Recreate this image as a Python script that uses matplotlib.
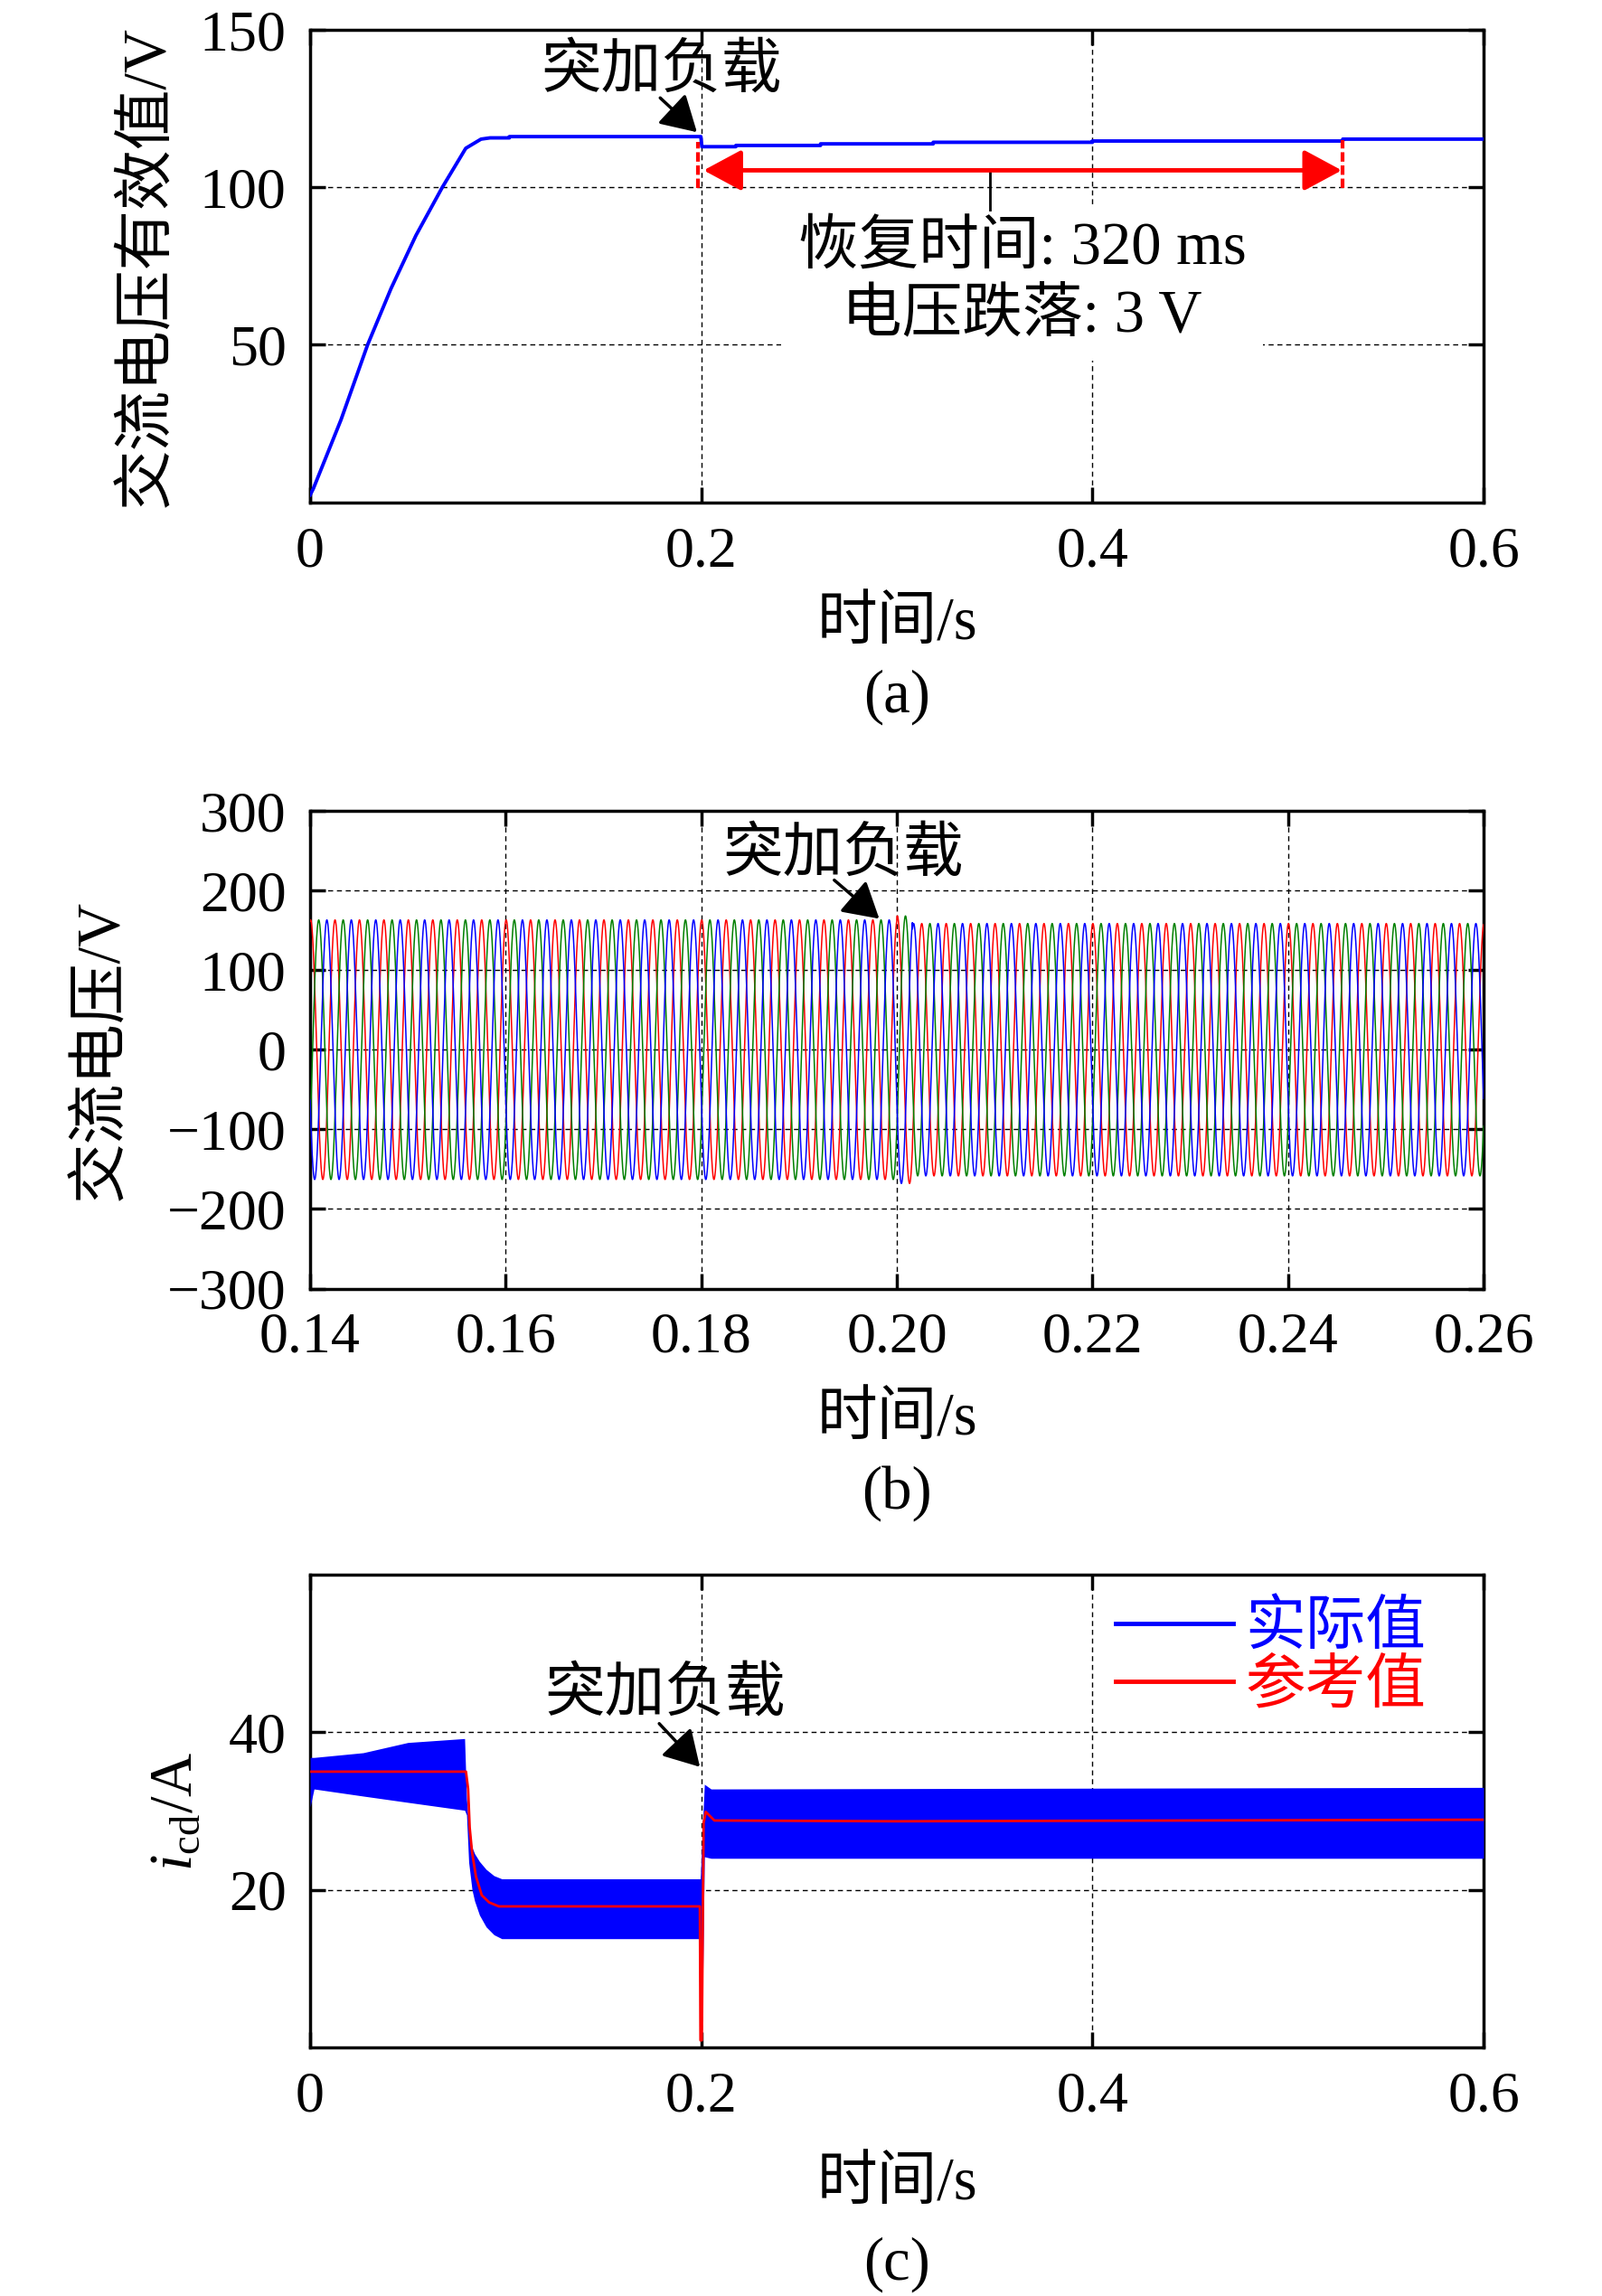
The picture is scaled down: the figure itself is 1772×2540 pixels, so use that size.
import numpy as np
import matplotlib
matplotlib.use("Agg")
import matplotlib.pyplot as plt
from matplotlib.lines import Line2D

plt.rcParams['font.family'] = ['Liberation Serif', 'Noto Sans CJK SC']
plt.rcParams['mathtext.fontset'] = 'custom'
plt.rcParams['mathtext.rm'] = 'Liberation Serif'
plt.rcParams['mathtext.it'] = 'Liberation Serif:italic'
plt.rcParams['axes.unicode_minus'] = True

# ---------------- data ----------------
# (a) RMS of AC voltage
t_rms = [0.000, 0.0017, 0.0158, 0.0294, 0.0414, 0.0541, 0.0676, 0.0796, 0.0874,
         0.0920, 0.1019, 0.1019, 0.1998, 0.2003, 0.2177, 0.2177, 0.2610, 0.2610,
         0.3186, 0.3186, 0.4000, 0.4000, 0.5280, 0.5280, 0.6000]
v_rms = [2.3, 4.4, 26.2, 50.0, 67.9, 84.7, 100.0, 112.4, 115.3,
         115.7, 115.7, 116.1, 116.1, 112.9, 112.9, 113.3, 113.3, 113.8,
         113.8, 114.3, 114.3, 114.7, 114.7, 115.3, 115.3]

# (b) three-phase AC voltage (400 Hz system)
f_ac = 400.0            # Hz
t_b_start, t_b_end = 0.14, 0.26
amp_before = 163.0      # V peak before load step
amp_peak = 168.0        # V peak during transient
amp_after = 158.5       # V peak after load step
t_step = 0.2
t_transient_end = 0.2016
phase_shift = 0.00005   # s, red-phase peak offset
phase_colors = ['#ff0000', '#008000', '#0000ff']

# (c) i_cd: ripple envelope of actual value and reference
t_band = [0.0000, 0.0020, 0.0271, 0.0500, 0.0790, 0.0800, 0.0811, 0.0828, 0.0841,
          0.0866, 0.0900, 0.0940, 0.0980, 0.1990, 0.1995, 0.2008, 0.2016, 0.2050, 0.6000]
band_hi = [36.8, 36.8, 37.4, 38.7, 39.2, 31.5, 28.0, 25.4, 24.6,
           23.6, 22.6, 21.8, 21.4, 21.4, 21.4, 29.0, 33.4, 32.8, 33.0]
band_lo = [30.5, 32.8, 31.9, 31.1, 30.1, 29.5, 23.5, 20.0, 18.6,
           16.8, 15.3, 14.3, 13.8, 13.8, 9.1, 9.1, 24.2, 24.0, 24.0]
t_ref = [0.0000, 0.0797, 0.0808, 0.0816, 0.0828, 0.0848, 0.0878, 0.0916, 0.0965,
         0.1993, 0.1996, 0.2003, 0.2012, 0.2023, 0.2067, 0.3000, 0.6000]
i_ref = [35.0, 35.0, 32.8, 27.9, 24.8, 21.7, 19.3, 18.4, 17.9,
         17.9, 0.9, 0.9, 28.5, 29.9, 28.8, 28.7, 28.9]

legend_labels = ['实际值', '参考值']
xt_ac = [0, 0.2, 0.4, 0.6]
xt_ac_labels = ['0', '0.2', '0.4', '0.6']
yt_a = [50, 100, 150]
xt_b = [0.14, 0.16, 0.18, 0.20, 0.22, 0.24, 0.26]
xt_b_labels = ['0.14', '0.16', '0.18', '0.20', '0.22', '0.24', '0.26']
yt_b = [-300, -200, -100, 0, 100, 200, 300]
yt_c = [20, 40]

# ---------------- figure ----------------
FS = 46      # tick labels
FC = 48      # labels / annotations with Chinese text
FL = 48      # legend
W, H = 1772, 2540
fig = plt.figure(figsize=(W / 100, H / 100), dpi=100)


def axes_px(left, top, right, bottom):
    return fig.add_axes([left / W, 1 - bottom / H, (right - left) / W, (bottom - top) / H])


def style(ax):
    for s in ax.spines.values():
        s.set_linewidth(2.5)
    ax.tick_params(direction='in', top=True, right=True, length=12, width=2.5,
                   labelsize=FS, pad=19)
    ax.set_axisbelow(True)
    ax.grid(True, color='k', lw=1.0, linestyle=(0, (4, 3)))


L, R = 343, 1641
ax_a = axes_px(L, 33, R, 555.7)
ax_b = axes_px(L, 897, R, 1425.5)
ax_c = axes_px(L, 1742, R, 2265)
for ax in (ax_a, ax_b, ax_c):
    style(ax)

arrow_k = dict(arrowstyle='-|>,head_length=1.2,head_width=0.7', mutation_scale=20,
               lw=2.5, color='k', shrinkA=0, shrinkB=0)

# ---- (a) ----
ax_a.plot(t_rms, v_rms, color='#0000ff', lw=2.8, zorder=3)
ax_a.set_xlim(0, 0.6)
ax_a.set_ylim(0, 150)
ax_a.set_xticks(xt_ac)
ax_a.set_xticklabels(xt_ac_labels)
ax_a.set_yticks(yt_a)
ax_a.text(0.1794, 136.5, '突加负载', ha='center', va='center', fontsize=FC)
ax_a.annotate('', xy=(0.1978, 117.5), xytext=(0.1790, 128.4), arrowprops=arrow_k)
ax_a.annotate('', xy=(0.5275, 105.4), xytext=(0.2012, 105.4),
              arrowprops=dict(arrowstyle='<|-|>,head_length=1.3,head_width=0.7',
                              mutation_scale=20, lw=3.5, color='#ff0000',
                              shrinkA=0, shrinkB=0), zorder=5)
ax_a.plot([0.1985, 0.1985], [99.7, 114.4], color='#ff0000', lw=3, dashes=(2.5, 1), zorder=4)
ax_a.plot([0.5280, 0.5280], [99.7, 115.0], color='#ff0000', lw=3, dashes=(2.5, 1), zorder=4)
ax_a.text(0.364, 69.8, '恢复时间: 320 ms\n电压跌落: 3 V', ha='center', va='center',
          multialignment='center', fontsize=FC, linespacing=1.27, zorder=3,
          bbox=dict(boxstyle='square,pad=0.28', facecolor='white', edgecolor='none'))
ax_a.plot([0.3477, 0.3477], [105.4, 93.0], color='k', lw=2, zorder=4)

# ---- (b) ----
t_b = np.arange(t_b_start, t_b_end + 1e-6, 1e-5)
amp = np.where(t_b < t_step, amp_before,
               np.where(t_b < t_transient_end, amp_peak, amp_after))
theta = 2 * np.pi * f_ac * (t_b - t_b_start - phase_shift)
for k, c in enumerate(phase_colors):
    ax_b.plot(t_b, amp * np.cos(theta - 2 * np.pi * k / 3), color=c, lw=1.1, zorder=3)
ax_b.set_xlim(t_b_start, t_b_end)
ax_b.set_ylim(-300, 300)
ax_b.set_xticks(xt_b)
ax_b.set_xticklabels(xt_b_labels)
ax_b.set_yticks(yt_b)
ax_b.text(0.1945, 244, '突加负载', ha='center', va='center', fontsize=FC, zorder=5)
ax_b.annotate('', xy=(0.1982, 164.5), xytext=(0.1936, 213), arrowprops=arrow_k, zorder=5)

# ---- (c) ----
ax_c.fill_between(t_band, band_lo, band_hi, color='#0000ff', lw=0, zorder=3)
ax_c.plot(t_ref, i_ref, color='#ff0000', lw=2, zorder=4)
ax_c.set_xlim(0, 0.6)
ax_c.set_ylim(0, 60)
ax_c.set_xticks(xt_ac)
ax_c.set_xticklabels(xt_ac_labels)
ax_c.set_yticks(yt_c)
ax_c.text(0.1815, 44.7, '突加负载', ha='center', va='center', fontsize=FC)
ax_c.annotate('', xy=(0.1993, 35.6), xytext=(0.1785, 41.1), arrowprops=arrow_k, zorder=5)
handles = [Line2D([], [], color='#0000ff', lw=3.5), Line2D([], [], color='#ff0000', lw=3.5)]
leg = ax_c.legend(handles, legend_labels, loc='upper left', bbox_to_anchor=(0.6865, 0.9446),
                  frameon=False, fontsize=FL, handlelength=1.95, handletextpad=0.2,
                  labelspacing=0.05, borderpad=0, borderaxespad=0)
for txt, c in zip(leg.get_texts(), ['#0000ff', '#ff0000']):
    txt.set_color(c)

# ---- labels ----
cx = (L + R) / 2 / W
for ax, lab, xpx in ((ax_a, '交流电压有效值/V', 163), (ax_b, '交流电压/V', 112),
                     (ax_c, r'$i_{\mathrm{cd}}$/A', 195)):
    pos = ax.get_position()
    fig.text(xpx / W, pos.y0 + pos.height / 2, lab, rotation=90, ha='center',
             va='center', fontsize=FC)
for xl_y, pl_y, pl in ((690, 771, '(a)'), (1570, 1652, '(b)'), (2416, 2505, '(c)')):
    fig.text(cx, 1 - xl_y / H, '时间/s', ha='center', va='center', fontsize=FC)
    fig.text(cx, 1 - pl_y / H, pl, ha='center', va='center', fontsize=FC)

fig.savefig('out.png', dpi=100)
